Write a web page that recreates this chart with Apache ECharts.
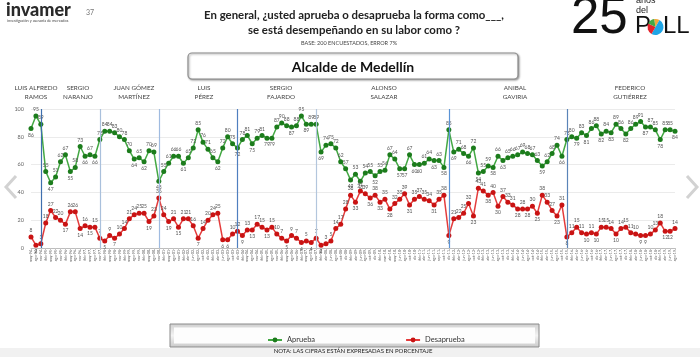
<!DOCTYPE html>
<html><head><meta charset="utf-8">
<script src="https://cdn.jsdelivr.net/npm/echarts@6/dist/echarts.min.js"></script>
<style>html,body{margin:0;padding:0;background:#fff}#c{width:700px;height:357px}</style>
</head><body><div id="c"></div>
<script>
const categories = [
 "may-94","ago-94","nov-94",
 "feb-95","may-95","ago-95","nov-95","feb-96","may-96","ago-96","nov-96","feb-97","may-97","ago-97","nov-97",
 "feb-98","may-98","ago-98","nov-98","feb-99","may-99","ago-99","nov-99","feb-00","may-00","ago-00","nov-00",
 "feb-01","may-01","ago-01","nov-01","feb-02","abr-02","jun-02","ago-02","oct-02","dic-02","feb-03","abr-03","jun-03","ago-03","oct-03","dic-03",
 "feb-04","may-04","ago-04","nov-04","feb-05","may-05","ago-05","nov-05","feb-06","may-06","ago-06","nov-06","feb-07","may-07","ago-07","nov-07",
 "feb-08","abr-08","jun-08","ago-08","oct-08","dic-08","feb-09","abr-09","jun-09","ago-09","oct-09","dic-09",
 "feb-10","mar-10","abr-10","may-10","jun-10","ago-10","oct-10","dic-10","feb-11","abr-11","jun-11","ago-11","sep-11","oct-11","dic-11",
 "feb-12","abr-12","jun-12","ago-12","oct-12","dic-12","feb-13","abr-13","jun-13","ago-13","oct-13","dic-13",
 "feb-14","abr-14","jun-14","ago-14","oct-14","dic-14","feb-15","abr-15","jun-15","ago-15","oct-15","dic-15",
 "feb-16","abr-16","jun-16","ago-16","oct-16","dic-16","feb-17","abr-17","jun-17","ago-17","oct-17","dic-17",
 "feb-18","abr-18","jun-18","ago-18","oct-18","dic-18","feb-19","abr-19","jun-19","ago-19"
];
const aprueba = [
 86,95,89,55,47,51,62,67,55,58,73,66,67,66,
 78,84,84,83,80,78,70,64,65,62,70,69,
 48,55,61,66,66,61,65,72,85,76,71,65,62,72,80,75,
 72,78,81,75,79,81,79,79,87,90,88,87,88,95,89,89,
 89,69,74,75,72,62,57,49,53,48,54,55,52,55,56,67,64,57,57,67,60,60,61,64,63,63,58,
 85,69,71,68,66,72,54,55,59,58,66,63,65,66,67,69,68,67,63,59,62,68,74,66,
 78,80,79,83,81,86,88,82,84,83,89,86,82,86,89,91,87,87,85,78,85,85,84
];
const desaprueba = [
 8,2,3,18,27,22,20,17,26,26,14,16,15,15,
 7,5,9,7,10,14,21,24,25,25,19,23,
 36,24,19,21,15,21,21,16,7,14,20,24,25,6,6,10,
 12,9,13,13,17,15,13,15,10,7,5,9,7,4,5,4,
 7,2,3,5,14,17,28,38,33,41,39,36,38,33,35,28,32,35,39,31,35,37,35,34,31,35,38,
 9,21,22,25,32,23,43,41,38,40,30,37,33,31,28,28,28,30,25,38,33,27,23,31,
 8,11,15,11,10,11,10,15,15,14,10,14,15,11,10,9,9,10,13,18,12,12,14
];
const mayors = [["LUIS ALFREDO","RAMOS"],["SERGIO","NARANJO"],["JUAN GÓMEZ","MARTÍNEZ"],["LUIS","PÉREZ"],["SERGIO","FAJARDO"],["ALONSO","SALAZAR"],["ANIBAL","GAVIRIA"],["FEDERICO","GUTIÉRREZ"]];
const changeIdx = [2,14,26,42,58,85,109];
const seriesNames = ["Aprueba","Desaprueba"];

const FONT = 'Lato, "Open Sans", sans-serif';
const mayorX = [36,78,134,204,281,384,515,630];
const sepColors = ['#3f6fae','#a9c0dc','#9fbbe0','#4f7fbf','#b3c6dd','#5a93d6','#5a84b8'];

function withPos(arr){
  return arr.map((v,i)=>{
    const p = i>0?arr[i-1]:v, n = i<arr.length-1?arr[i+1]:v;
    const low = (v<p && v<=n) || (v<=p && v<n);
    return {value:v, label:{position: low?'bottom':'top'}};
  });
}

const graphic = [
  {type:'rect', shape:{x:0,y:348,width:700,height:9}, style:{fill:'#f1f1f1'}, z:-1},
  {type:'polyline', shape:{points:[[16,176],[6,187],[16,198]]}, style:{stroke:'#d2d2d2', lineWidth:3, fill:null}},
  {type:'polyline', shape:{points:[[687,176],[697,187],[687,198]]}, style:{stroke:'#d2d2d2', lineWidth:3, fill:null}},
  {type:'text', style:{text:'invamer', x:6, y:10, fill:'#2a2a2a', font:'900 18px '+FONT, align:'left', verticalAlign:'middle'}},
  {type:'text', style:{text:'investigación y asesoría de mercados', x:7, y:21, fill:'#444', font:'3.8px '+FONT, align:'left', verticalAlign:'middle'}},
  {type:'text', style:{text:'37', x:86, y:13, fill:'#777', font:'7px '+FONT, align:'left', verticalAlign:'middle'}},
  {type:'text', style:{text:'En general, ¿usted aprueba o desaprueba la forma como___,', x:354, y:15.5, fill:'#222', font:'bold 11.4px '+FONT, align:'center', verticalAlign:'middle'}},
  {type:'text', style:{text:'se está desempeñando en su labor como ?', x:354, y:30, fill:'#222', font:'bold 11.4px '+FONT, align:'center', verticalAlign:'middle'}},
  {type:'text', style:{text:'BASE: 200 ENCUESTADOS, ERROR 7%', x:349, y:43.5, fill:'#444', font:'5.5px '+FONT, align:'center', verticalAlign:'middle'}},
  {type:'rect', shape:{x:188,y:53,width:330,height:26,r:4}, style:{fill:'#fff', stroke:'#8c8c8c', lineWidth:1.2, shadowBlur:2, shadowOffsetX:1, shadowOffsetY:1, shadowColor:'rgba(0,0,0,0.35)'}},
  {type:'text', style:{text:'Alcalde de Medellín', x:353, y:67, fill:'#111', font:'bold 14px '+FONT, align:'center', verticalAlign:'middle'}},
  {type:'text', style:{text:'25', x:571, y:19, fill:'#111', font:'51px "Liberation Sans", Arial, sans-serif', align:'left', verticalAlign:'middle'}},
  {type:'text', style:{text:'años', x:636, y:1, fill:'#222', font:'9px "Liberation Sans", Arial, sans-serif', align:'left', verticalAlign:'middle'}},
  {type:'text', style:{text:'del', x:636, y:11, fill:'#222', font:'9px "Liberation Sans", Arial, sans-serif', align:'left', verticalAlign:'middle'}},
  {type:'text', style:{text:'P', x:635, y:26.5, fill:'#111', font:'24px "Liberation Sans", Arial, sans-serif', align:'left', verticalAlign:'middle'}},
  {type:'sector', shape:{cx:655.5,cy:27,r:8,startAngle:-Math.PI*100/180,endAngle:-Math.PI*60/180}, style:{fill:'#f2a93b'}},
  {type:'sector', shape:{cx:655.5,cy:27,r:8,startAngle:-Math.PI*60/180,endAngle:Math.PI*120/180}, style:{fill:'#1ea5e6'}},
  {type:'sector', shape:{cx:655.5,cy:27,r:8,startAngle:Math.PI*120/180,endAngle:Math.PI*205/180}, style:{fill:'#e3232b'}},
  {type:'sector', shape:{cx:655.5,cy:27,r:8,startAngle:Math.PI*205/180,endAngle:Math.PI*260/180}, style:{fill:'#43a844'}},
  {type:'text', style:{text:'LL', x:663, y:26.5, fill:'#111', font:'24px "Liberation Sans", Arial, sans-serif', align:'left', verticalAlign:'middle'}},
  {type:'rect', shape:{x:170,y:324,width:369,height:23}, style:{fill:new echarts.graphic.LinearGradient(0,0,0,1,[{offset:0,color:'#cfcfcf'},{offset:0.5,color:'#f3f3f3'},{offset:1,color:'#c9c9c9'}]), stroke:'#8a8a8a', lineWidth:1}},
  {type:'rect', shape:{x:174,y:327.5,width:361,height:16}, style:{fill:'#fdfdfd'}},
  {type:'text', style:{text:'NOTA: LAS CIFRAS ESTÁN EXPRESADAS EN PORCENTAJE', x:353, y:351.5, fill:'#222', font:'6px '+FONT, align:'center', verticalAlign:'middle'}, z:5}
];
mayors.forEach((m,k)=>{
  graphic.push({type:'text', style:{text:m[0], x:mayorX[k], y:88, fill:'#444', font:'6.3px '+FONT, align:'center', verticalAlign:'middle'}});
  graphic.push({type:'text', style:{text:m[1], x:mayorX[k], y:96.5, fill:'#444', font:'6.3px '+FONT, align:'center', verticalAlign:'middle'}});
});

const chart = echarts.init(document.getElementById('c'));
chart.setOption({
  animation:false,
  backgroundColor:'#fff',
  textStyle:{fontFamily:FONT},
  grid:{left:31, right:25, top:109, bottom:109},
  legend:{data:seriesNames, left:262, top:331, itemWidth:14, itemHeight:6, itemGap:90, z:10,
    textStyle:{fontSize:7.5, color:'#333', fontFamily:FONT}},
  xAxis:{type:'category', data:categories, boundaryGap:false,
    axisLine:{lineStyle:{color:'#bdbdbd'}},
    axisTick:{show:true, interval:0, length:2, lineStyle:{color:'#c4c4c4'}},
    axisLabel:{interval:0, rotate:90, fontSize:3.6, color:'#555', margin:2},
    splitLine:{show:false}},
  yAxis:{type:'value', min:0, max:100, interval:20,
    axisLine:{show:false}, axisTick:{show:false},
    axisLabel:{fontSize:5.5, color:'#666', margin:7},
    splitLine:{lineStyle:{color:'#ebebeb'}}},
  series:[
    {name:seriesNames[0], type:'line', data:withPos(aprueba), symbol:'circle', symbolSize:5,
      lineStyle:{color:'#43a843', width:1.5}, itemStyle:{color:'#1c7c1c'},
      label:{show:true, fontSize:5, color:'#555', distance:1.5},
      markLine:{silent:true, symbol:'none', label:{show:false},
        data: changeIdx.map((i,k)=>({xAxis:categories[i], lineStyle:{color:sepColors[k], width:1.2, type:'solid'}}))}},
    {name:seriesNames[1], type:'line', data:withPos(desaprueba), symbol:'circle', symbolSize:5,
      lineStyle:{color:'#e43c3c', width:1.5}, itemStyle:{color:'#c91313'},
      label:{show:true, fontSize:5, color:'#555', distance:1.5}}
  ],
  graphic: graphic
});
</script>
</body></html>
